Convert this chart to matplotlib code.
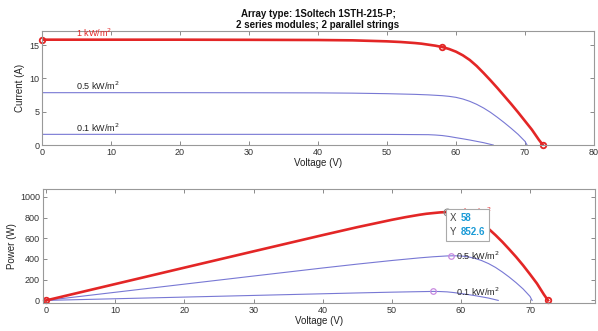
import matplotlib
matplotlib.use('Agg')
import matplotlib.pyplot as plt
import numpy as np
from matplotlib.offsetbox import TextArea, HPacker, VPacker, AnnotationBbox

plt.rcParams['font.family'] = ['Liberation Sans', 'DejaVu Sans']

# I-V curves
V_1000 = [0, 10, 20, 30, 40, 45, 50, 52, 54, 55, 56, 57, 58, 59, 60, 61, 62, 63, 64, 65, 66, 67, 68,
          69, 70, 71, 72, 72.6]
I_1000 = [15.8, 15.8, 15.8, 15.78, 15.75, 15.7, 15.55, 15.45, 15.3, 15.2, 15.05, 14.9, 14.7, 14.4, 14.0,
          13.45, 12.75, 11.85, 10.8, 9.7, 8.55, 7.35, 6.15, 4.9, 3.6, 2.3, 0.8, 0]
V_500 = [0, 10, 20, 30, 40, 45, 50, 54, 56, 58, 59, 60, 61, 62, 63, 64, 65, 66, 67, 68, 69, 70, 70.3]
I_500 = [7.85, 7.85, 7.85, 7.84, 7.82, 7.78, 7.7, 7.6, 7.52, 7.4, 7.3, 7.15, 6.9, 6.55, 6.1, 5.55,
         4.9, 4.15, 3.35, 2.5, 1.6, 0.55, 0]
V_100 = [0, 10, 20, 30, 40, 45, 50, 53, 56, 57, 58, 59, 60, 61, 62, 63, 64, 65, 65.4]
I_100 = [1.6, 1.6, 1.6, 1.6, 1.6, 1.6, 1.59, 1.57, 1.55, 1.5, 1.42, 1.28, 1.1, 0.93, 0.75, 0.55,
         0.35, 0.1, 0]

labels = ['1 kW/m$^2$', '0.5 kW/m$^2$', '0.1 kW/m$^2$']
mpp_1000 = (58, 852.6)
mpp_500_v = 58.5
mpp_100_v = 56

red = '#e32626'
blue = '#7878d4'
purple = '#c98ae0'
gray = '#999999'
txt = '#333333'

fig = plt.figure(figsize=(5.98, 3.31), dpi=100)
ax1 = fig.add_axes([0.0702, 0.5619, 0.9231, 0.3444])
ax2 = fig.add_axes([0.0714, 0.0846, 0.9236, 0.3444])

for ax in (ax1, ax2):
    for s in ax.spines.values():
        s.set_color(gray)
        s.set_linewidth(0.8)
    ax.tick_params(direction='in', length=3, width=0.6, color='#777777',
                   labelsize=6.5, labelcolor=txt, top=True, right=True, pad=2)

# top: current
ax1.plot(V_100, I_100, color=blue, lw=0.8)
ax1.plot(V_500, I_500, color=blue, lw=0.8)
ax1.plot(V_1000, I_1000, color=red, lw=1.9)
ax1.plot([V_1000[0], mpp_1000[0], V_1000[-1]], [I_1000[0], I_1000[V_1000.index(58)], I_1000[-1]],
         'o', mfc='none', mec=red, ms=4, mew=1.3, clip_on=False)
ax1.text(4.9, I_1000[0] + 0.1, labels[0], color=red, fontsize=6.5, va='bottom')
ax1.text(4.9, I_500[0] + 0.1, labels[1], color='#222222', fontsize=6.5, va='bottom')
ax1.text(4.9, I_100[0] + 0.1, labels[2], color='#222222', fontsize=6.5, va='bottom')
ax1.set_xlim(0, 80)
ax1.set_ylim(0, 17.1)
ax1.set_xticks(range(0, 81, 10))
ax1.set_yticks([0, 5, 10, 15])
ax1.set_xlabel('Voltage (V)', fontsize=7, color='#222222', labelpad=1)
ax1.set_ylabel('Current (A)', fontsize=7, color='#222222', labelpad=3)
ax1.set_title('Array type: 1Soltech 1STH-215-P;\n2 series modules; 2 parallel strings',
              fontsize=7, fontweight='bold', color='#111111', pad=2, linespacing=1.1)

# bottom: power
P_1000 = np.array(V_1000) * np.array(I_1000)
P_500 = np.array(V_500) * np.array(I_500)
P_100 = np.array(V_100) * np.array(I_100)
ax2.plot(V_100, P_100, color=blue, lw=0.8)
ax2.plot(V_500, P_500, color=blue, lw=0.8)
ax2.plot(V_1000, P_1000, color=red, lw=1.9)
ax2.plot([V_1000[0], V_1000[-1]], [0, 0], 'o', mfc='none', mec=red, ms=4, mew=1.3, clip_on=False)
ax2.plot([mpp_500_v, mpp_100_v],
         [np.interp(mpp_500_v, V_500, P_500), np.interp(mpp_100_v, V_100, P_100)],
         'o', mfc='none', mec=purple, ms=4, mew=0.9)
ax2.text(59.3, mpp_1000[1], labels[0], color=red, fontsize=6.5, va='center')
ax2.text(59.3, np.interp(mpp_500_v, V_500, P_500), labels[1], color='#222222', fontsize=6.5, va='center')
ax2.text(59.3, np.interp(mpp_100_v, V_100, P_100), labels[2], color='#222222', fontsize=6.5, va='center')
ax2.plot(*mpp_1000, 'o', mfc='none', mec='#888888', ms=5, mew=0.8, zorder=6)
ax2.plot(*mpp_1000, '.', color='black', ms=3, zorder=7)

# data tip
tip_blue = '#1a9ad6'
fs = 7
row_x = HPacker(children=[TextArea('X ', textprops=dict(color='#444444', fontsize=fs)),
                          TextArea('%d' % mpp_1000[0], textprops=dict(color=tip_blue, fontsize=fs, fontweight='bold'))],
                align='baseline', pad=0, sep=1)
row_y = HPacker(children=[TextArea('Y ', textprops=dict(color='#444444', fontsize=fs)),
                          TextArea('%.1f' % mpp_1000[1], textprops=dict(color=tip_blue, fontsize=fs, fontweight='bold'))],
                align='baseline', pad=0, sep=1)
tip = VPacker(children=[row_x, row_y], align='left', pad=0, sep=3)
ab = AnnotationBbox(tip, mpp_1000, xybox=(2, -0.5), boxcoords='offset points', box_alignment=(0, 1),
                    frameon=True, pad=0.7,
                    bboxprops=dict(edgecolor='#aaaaaa', facecolor='white', lw=0.8, boxstyle='square'))
ab.set_zorder(8)
ax2.add_artist(ab)

ax2.set_xlim(-0.5, 79.4)
ax2.set_ylim(-25, 1075)
ax2.set_xticks(range(0, 71, 10))
ax2.set_yticks(range(0, 1001, 200))
ax2.set_xlabel('Voltage (V)', fontsize=7, color='#222222', labelpad=1)
ax2.set_ylabel('Power (W)', fontsize=7, color='#222222', labelpad=2)

fig.savefig('out.png', dpi=100)
